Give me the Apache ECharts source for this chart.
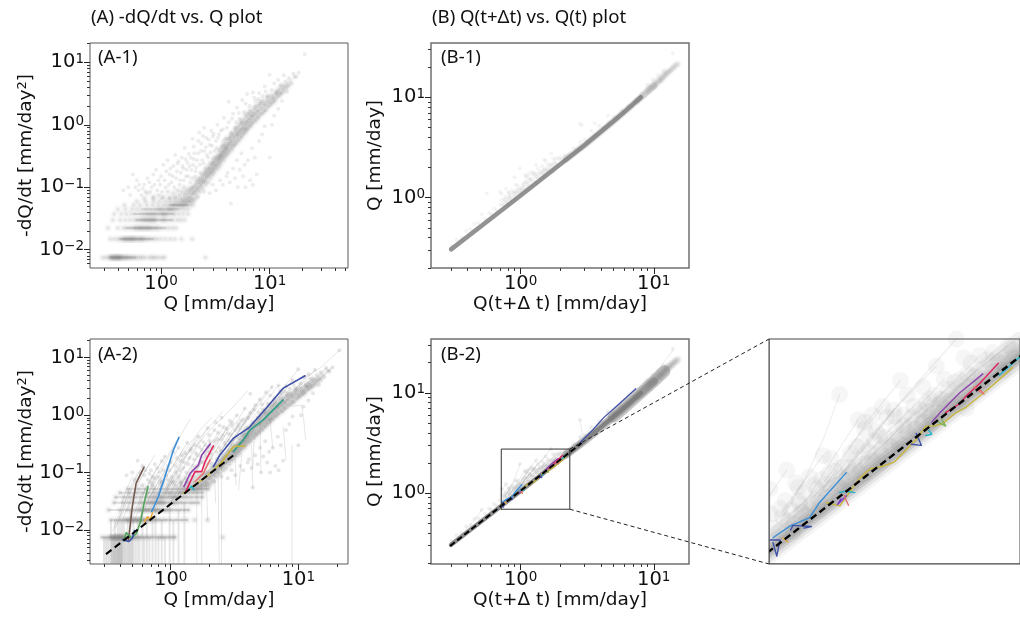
<!DOCTYPE html>
<html><head><meta charset="utf-8">
<style>html,body{margin:0;padding:0;background:#fff;overflow:hidden}#c{width:1020px;height:619px}</style>
<script src="https://cdn.jsdelivr.net/npm/echarts@6/dist/echarts.min.js"></script></head>
<body><div id="c"></div><script>
// ---------- tick labels and axis limits ----------
const majorA1X=[1,10], majorA1Y=[0.01,0.1,1,10], majorB=[1,10];
const minorVals=[.003,.004,.005,.006,.007,.008,.009,.02,.03,.04,.05,.06,.07,.08,.09,.2,.3,.4,.5,.6,.7,.8,.9,2,3,4,5,6,7,8,9,20,30,40,50];
const limA1={x:[.222,52.6],y:[.0051,20.4]};
const limA2={x:[.233,24.5],y:[.00256,21.2]};
const limB1={x:[.212,18.4],y:[.199,34.7]};
const limB2={x:[.212,18.4],y:[.196,34.5]};
const limIn={x:[.715,2.265],y:[.69,2.75]};
// ---------- A: quantised low-flow bands ----------
const bandLevels=[.0075,.0149,.0223,.0298,.0372,.0446,.052,.0595,.067];
const band1=[.29,.31,.33,.34,.345,.35,.355,.36,.365,.37,.375,.38,.385,.39,.395,.4,.405,.41,.415,.42,.425,.43,.44,.45,.46,.47,.48,.49,.5,.52,.53,.55,.57,.59,.62,.65,.68,.72,.78,.82,.86,.9,.96,1.03,1.08,2.56];
const band2=[.34,.37,.4,.42,.44,.45,.46,.47,.48,.49,.5,.51,.52,.53,.54,.55,.56,.57,.58,.6,.62,.63,.65,.66,.68,.69,.72,.75,.78,.82,.87,.92,1,1.1,1.22,1.34,1.54,1.94];
const band3=[.325,.4,.45,.48,.51,.54,.57,.58,.6,.62,.63,.65,.66,.68,.69,.72,.73,.75,.77,.79,.81,.83,.87,.9,.92,.97,1.02,1.1,1.18,1.28,1.38];
const band4=[.36,.42,.47,.52,.57,.6,.63,.66,.68,.7,.72,.74,.76,.78,.8,.82,.84,.86,.88,.9,.96,1.02,1.05,1.08,1.14,1.22,1.3,1.42,1.52,1.65];
const band5=[.37,.43,.48,.53,.58,.64,.68,.72,.75,.78,.81,.84,.87,.9,.95,1,1.03,1.06,1.09,1.12,1.18,1.26,1.34,1.45,1.6,1.77];
const band6=[.4,.47,.54,.6,.66,.73,.8,.88,.94,.98,1.02,1.08,1.15,1.18,1.22,1.26,1.3,1.38,1.5,1.62,1.77];
const band7=[.46,.56,.64,.74,.84,.94,1.04,1.12,1.2,1.27,1.3,1.34,1.38,1.42,1.46,1.5,1.54,1.58,1.62,1.66,1.75,1.86,1.97];
const band8=[.6,.72,.85,.96,1.1,1.22,1.35,1.45,1.55,1.65,1.75,1.85,2];
const band9=[.7,.85,1.02,1.2,1.35,1.5,1.7,1.9,2.1];
const allBands=[band1,band2,band3,band4,band5,band6,band7,band8,band9];
const bandCore=[[.35,.58],[.42,.84],[.48,1.08],[.6,1.26],[.56,1.3],[.68,1.45],[1.2,1.75]];
const bandCoreWide=[[.29,1.08],[.34,1.34],[.33,1.38],[.36,1.65],[.37,1.77],[.4,1.77],[.46,1.97]];
// ---------- A: scatter cloud and dense core ----------
const cloudUpper=[[.55,.16],[.6,.13],[.5,.1],[.45,.09],[.52,.075],[.62,.09],[.7,.11],[.75,.14],[.66,.075],[.8,.085],[.87,.11],[.9,.19],[.95,.13],[1,.15],[1.05,.23],[1.1,.1],[1.15,.27],[1.2,.16],[1.25,.12],[1.3,.22],[1.35,.33],[1.4,.18],[1.45,.26],[1.5,.13],[1.55,.3],[1.6,.2],[1.65,.43],[1.7,.15],[1.75,.25],[1.8,.34],[1.85,.12],[1.9,.19],[1.95,.6],[2,.28],[2,.45],[2.05,.15],[2.1,.21],[2.2,.35],[2.25,.75],[2.3,.17],[2.35,.5],[2.4,.27],[2.5,.9],[2.5,.38],[2.55,.2],[2.6,.62],[2.7,.3],[2.8,.48],[2.9,.8],[3,.25],[3,.65],[3.1,.38],[3.2,.55],[3.3,1],[3.4,.7],[3.5,.32],[3.6,.45],[3.7,.85],[3.8,1.3],[3.9,.6],[4,.42],[4.2,2.35],[4.2,1.1],[4.4,.75],[4.6,1.5],[4.8,.9],[5,1.9],[5,.7],[5.3,1.25],[5.6,2.5],[5.8,1.6],[6,.85],[6.2,3.1],[6.5,2],[6.8,1.4],[7,3.3],[7.4,2.4],[8,3.2],[8.2,2.2],[8.6,2.9],[9,4.1],[9.5,2.9],[10,6.3],[10.4,3.6],[11,4.6],[11.5,3.2],[12,5.2],[12.5,4.3],[13,3.2],[13.5,6.2],[14,5],[14.5,3.4],[15,5.6],[16,4.6],[16.5,6.6],[17.5,5.9],[18.5,6.8],[21,13.5]];
const cloudUpper2=[[.58,.1],[.63,.11],[.68,.095],[.72,.085],[.78,.12],[.82,.1],[.85,.16],[.92,.09],[.98,.11],[1.02,.085],[1.08,.13],[1.12,.18],[1.18,.11],[1.22,.2],[1.28,.15],[1.32,.1],[1.38,.14],[1.42,.24],[1.48,.11],[1.52,.17],[1.58,.22],[1.62,.13],[1.68,.28],[1.72,.19],[1.78,.15],[1.83,.22],[1.88,.3],[1.92,.14],[1.97,.23],[2.03,.35],[2.08,.18],[2.15,.27],[2.2,.55],[2.28,.23],[2.33,.38],[2.42,.66],[2.47,.24],[2.58,.44],[2.65,.33],[2.75,.58],[2.85,.36],[2.95,.46],[3.05,.72],[3.25,.42],[3.35,.62],[3.55,.8],[3.75,.55],[4.05,.9],[4.3,.62],[4.5,1.25],[4.9,1.1],[5.2,1.55],[5.5,1.05],[6,2.2],[6.3,1.5],[7.2,2.7],[7.8,2.6],[9.2,3.4]];
const cloudMid=[[.75,.08],[.85,.07],[.95,.075],[1.05,.07],[1.15,.085],[1.2,.068],[1.3,.08],[1.35,.07],[1.42,.09],[1.48,.075],[1.55,.085],[1.6,.066],[1.62,.1],[1.68,.08],[1.72,.09]];
const cloudLower=[[2.2,.07],[2.5,.085],[2.8,.08],[3,.11],[3.2,.09],[3.5,.13],[3.7,.11],[4,.15],[4.1,.17],[4.3,.12],[4.4,.055],[4.6,.2],[4.8,.14],[5,.27],[5.1,.1],[5.3,.19],[5.5,.35],[5.7,.15],[5.9,.23],[6,.1],[6.3,.27],[6.6,.13],[6.9,.42],[7,.11],[7.3,.3],[7.6,.16],[8,.55],[8.5,.7],[9,.95],[10,.3],[10.5,1],[11,1.4],[12,1.8],[13,2.4]];
const cloudCore=[[1.75,.062],[1.8,.08],[1.85,.07],[1.9,.09],[1.95,.078],[2,.1],[2.05,.085],[2.1,.11],[2.15,.095],[2.2,.12],[2.25,.1],[2.3,.13],[2.35,.105],[2.4,.14],[2.45,.12],[2.5,.16],[2.55,.13],[2.6,.17],[2.65,.145],[2.7,.19],[2.75,.155],[2.8,.2],[2.85,.17],[2.9,.23],[2.95,.18],[3,.25],[3.05,.2],[3.1,.27],[3.15,.22],[3.2,.3],[3.25,.23],[3.3,.26],[3.35,.33],[3.4,.24],[3.45,.29],[3.5,.37],[3.55,.28],[3.6,.33],[3.65,.42],[3.7,.31],[3.75,.37],[3.8,.46],[3.85,.34],[3.9,.42],[3.95,.5],[4,.37],[4.1,.46],[4.15,.58],[4.2,.4],[4.3,.5],[4.35,.64],[4.4,.44],[4.5,.56],[4.55,.72],[4.6,.48],[4.7,.62],[4.8,.78],[4.85,.54],[4.95,.68],[5,.88],[5.1,.6],[5.2,.76],[5.3,1],[5.35,.66],[5.45,.84],[5.55,1.1],[5.6,.74],[5.7,.94],[5.8,1.22],[5.9,.82],[6,1.02],[6.1,1.35],[6.2,.9],[6.3,1.14],[6.45,1.5],[6.5,.98],[6.6,1.24],[6.8,1.62],[6.85,1.1],[7,1.38],[7.2,1.8],[7.25,1.2],[7.4,1.52],[7.6,2],[7.7,1.34],[7.85,1.68],[8.1,2.2],[8.2,1.5],[8.4,1.86],[8.7,2.4],[8.9,1.7],[9.1,2.08],[9.5,2.7],[9.7,1.95],[10,2.3],[10.4,3],[10.7,2.3],[11,2.7],[11.4,3.4],[11.9,2.8],[12.3,3.3],[12.8,3.9],[13.3,3.6],[13.8,4.1],[14.6,4.4],[15.5,5],[17,5.9]];
const cloudCore2=[[1.6,.06],[1.65,.075],[1.72,.055],[1.78,.07],[1.82,.095],[1.88,.06],[1.93,.1],[1.98,.065],[2.02,.08],[2.08,.13],[2.12,.075],[2.18,.09],[2.22,.14],[2.28,.085],[2.33,.115],[2.38,.16],[2.42,.095],[2.48,.125],[2.53,.18],[2.58,.11],[2.63,.15],[2.68,.21],[2.72,.12],[2.78,.17],[2.83,.24],[2.88,.14],[2.93,.2],[2.98,.16],[3.03,.29],[3.08,.17],[3.13,.23],[3.18,.19],[3.28,.3],[3.33,.2],[3.38,.28],[3.43,.4],[3.48,.22],[3.53,.32],[3.58,.25],[3.68,.36],[3.73,.48],[3.78,.27],[3.83,.39],[3.88,.3],[3.98,.44],[4.03,.6],[4.08,.33],[4.18,.5],[4.25,.36],[4.35,.55],[4.42,.7],[4.52,.4],[4.62,.66],[4.72,.46],[4.82,.85],[4.92,.5],[5.02,.74],[5.12,.95],[5.22,.55],[5.32,.82],[5.42,1.15],[5.52,.62],[5.65,.88],[5.75,.7],[5.85,1.08],[5.95,1.45],[6.05,.76],[6.15,1.12],[6.3,.85],[6.4,1.28],[6.55,1.7],[6.7,.95],[6.8,1.4],[6.95,1.05],[7.1,1.55],[7.3,1.95],[7.5,1.15],[7.65,1.7],[7.9,1.3],[8,2],[8.3,2.4],[8.6,1.5],[8.8,2.15],[9.2,1.7],[9.4,2.4],[9.8,2.8],[10.2,2.1],[10.6,2.6],[11.2,2.4],[11.7,3.1],[12.1,3.7],[12.6,3],[13.1,4.3],[13.6,3.4],[14.2,3.9],[15,4.2]];
const coreA=[[1.9,.085],[3.2,.24],[4.6,.5],[6.5,1.06],[8.7,1.74],[12,3.2]];
const dashA=[[.311,.0038],[3.25,.217]];
// ---------- A-2: recession curves ----------
const greyLinesA=[[[21,13.5],[15,6.8],[11,4.2]],[[3.98,2.6],[2.9,1.2],[2.1,.6],[1.6,.3]],[[2.55,1.15],[2,.62],[1.55,.32],[1.25,.17]],[[1.42,.85],[1.2,.45],[1,.22],[.85,.11]],[[2.1,.92],[1.7,.55],[1.35,.28],[1.1,.14]],[[.62,.13],[.52,.065],[.45,.03],[.4,.015]],[[.55,.1],[.47,.05],[.42,.023],[.37,.011]],[[.75,.2],[.62,.1],[.53,.05],[.46,.022]],[[.9,.19],[.75,.1],[.63,.05],[.55,.022]],[[1.1,.35],[.9,.16],[.75,.08],[.64,.036]],[[1.35,.33],[1.1,.16],[.9,.08],[.78,.04]],[[1.6,.43],[1.3,.2],[1.05,.09],[.9,.045]],[[1.95,.6],[1.55,.27],[1.25,.12],[1.03,.06]],[[3,.8],[2.4,.4],[1.9,.19],[1.5,.09]],[[3.3,1],[2.6,.48],[2.1,.24]],[[4.6,1.5],[3.7,.8],[2.9,.4],[2.3,.2]],[[5.6,2.5],[4.4,1.2],[3.4,.55]],[[7,3.3],[5.5,1.7],[4.3,.85]],[[10,6.3],[7.6,3],[6,1.55]],[[13.5,6.2],[10.4,3.3],[8,1.7]],[[9.1,1.42],[10.6,1.5],[11.1,.72],[11.4,.37]],[[7.6,.63],[8,.166]],[[8.9,.3],[8.9,.00256]],[[3.6,.2],[3.4,.05]],[[4.5,.35],[4.4,.13]],[[2.5,.13],[2.5,.00256]],[[2.2,.09],[2.25,.03]],[[2.35,.1],[2.4,.00256]],[[1.75,.06],[1.75,.00256]],[[1.6,.05],[1.6,.00256]],[[1.9,.07],[1.95,.015]],
[[.5,.085],[.44,.045],[.4,.021],[.35,.0095]],[[.68,.14],[.56,.07],[.48,.033],[.42,.015]],[[.85,.16],[.7,.08],[.58,.036],[.5,.016]],[[1,.15],[.82,.075],[.68,.036],[.58,.016]],[[1.25,.25],[1,.11],[.82,.052],[.7,.024]],[[1.5,.3],[1.2,.14],[.98,.065],[.82,.03]],[[1.75,.38],[1.4,.17],[1.15,.08],[.95,.037]],[[2.2,.55],[1.75,.25],[1.4,.115],[1.15,.052]],[[2.6,.62],[2.1,.3],[1.7,.14],[1.4,.065]],[[2.9,.6],[2.35,.28],[1.9,.13]],[[3.4,.7],[2.8,.36],[2.25,.17]],[[3.8,1.3],[3.1,.6],[2.5,.28]],[[4.2,1.1],[3.4,.55],[2.8,.28]],[[5,1.9],[4,.9],[3.2,.42]],[[5.3,1.25],[4.4,.68],[3.6,.36]],[[6.2,3.1],[4.8,1.4],[3.8,.68]],[[6.5,2],[5.3,1.1],[4.3,.58]],[[8,3.2],[6.3,1.6],[5,.85]],[[9,4.1],[7,2],[5.6,1.05]],[[12,5.2],[9.2,2.6],[7.4,1.4]],[[16.5,6.6],[12.6,3.6],[9.8,2]],[[18.5,6.8],[14.2,4],[11,2.4]],[[6,.85],[6.3,.27]],[[5,.7],[5.1,.1]],[[3.2,.2],[3.25,.06]],[[4.3,.3],[4.4,.055]],
[[.6,.13],[.5,.06],[.43,.028],[.38,.0125]],[[.8,.085],[.66,.042],[.55,.02],[.47,.0095]],[[.95,.13],[.78,.063],[.65,.03],[.55,.014]],[[1.15,.27],[.95,.12],[.8,.058],[.68,.027]],[[1.3,.22],[1.05,.1],[.88,.048],[.74,.022]],[[1.65,.43],[1.32,.19],[1.08,.085],[.9,.04]],[[1.85,.3],[1.5,.14],[1.22,.065],[1,.03]],[[2.05,.35],[1.65,.16],[1.35,.075],[1.1,.036]],[[2.35,.5],[1.9,.23],[1.55,.105]],[[2.75,.58],[2.25,.28],[1.8,.13]],[[3.25,.42],[2.7,.21],[2.2,.1]],[[3.55,.8],[2.9,.4],[2.35,.19]],[[4.05,.9],[3.3,.45],[2.7,.22]],[[4.5,1.25],[3.6,.62],[2.95,.3]],[[5.8,1.6],[4.6,.82],[3.7,.42]],[[7.2,2.7],[5.7,1.3],[4.5,.62]],[[7.4,2.4],[6,1.2],[4.9,.68]],[[10.4,3.6],[8.1,1.95],[6.4,1.05]]];
const dropX=[.3,.31,.32,.33,.34,.345,.35,.355,.36,.365,.37,.375,.38,.385,.39,.395,.4,.405,.41,.415,.42,.43,.44,.45,.46,.47,.48,.49,.5,.51,.53,.55,.57,.6,.62,.65,.68,.72,.76,.8,.85,.9,.98,1.05,1.15,1.28];
const dropTop=[.0075,.0075,.0075,.0075,.0149,.0075,.0075,.0075,.0075,.0149,.0075,.0075,.0075,.0149,.0075,.0075,.0149,.0075,.0075,.0149,.0075,.0149,.0075,.0075,.0149,.0075,.0223,.0075,.0075,.0149,.0075,.0149,.0075,.0223,.0075,.0149,.0075,.0149,.0223,.0075,.0149,.0075,.0298,.0149,.0223,.0298];
const blueA=[[2.16,.127],[2.43,.203],[3.1,.397],[4.06,.593],[5.32,1.16],[7.63,2.96],[11.3,4.85]];
const tealA=[[3.1,.232],[3.7,.37],[4.18,.55],[5.3,.83],[7.6,1.85]];
const yellowA=[[1.26,.044],[1.6,.065],[1.91,.085],[2.5,.15],[3.1,.284],[3.82,.29]];
const skyA=[[.71,.021],[.8,.038],[.9,.085],[1.05,.248],[1.16,.41]];
const brownA=[[.466,.0067],[.48,.0114],[.5,.0255],[.535,.065],[.618,.124]];
const greenA=[[.43,.0065],[.447,.009],[.495,.0072],[.54,.0088],[.58,.014],[.61,.0255],[.664,.057]];
const purpleA=[[1.27,.057],[1.42,.097],[1.65,.136],[1.75,.203],[2.04,.316]];
const crimsonA=[[1.3,.044],[1.46,.0795],[1.55,.104],[1.75,.104],[1.86,.156],[2.16,.292]];
const salmonA=[[1.55,.07],[1.8,.097],[2.03,.166]];
const orangeA=[[.62,.014],[.66,.017],[.69,.015],[.72,.02]];
const darkA=[[.42,.0068],[.47,.0063],[.5,.0072],[.52,.0098]];
const cyanA=[[1.38,.05],[1.45,.058],[1.52,.05]];
// ---------- B: cloud, ridge, curves ----------
const cloudB=[[.989,1.954],[1.307,2.13],[1.542,2.33],[1.69,2.75],[.776,1.23],[.916,1.343],[.808,1.137],[.817,1.104],[.718,1.094],[.753,.97],[.824,.997],[.891,1.094],[.931,1.127],[1,1.25],[1.077,1.675],[1.11,1.65],[1.11,1.58],[1.203,1.815],[1.267,1.778],[1.23,1.7],[1.274,1.71],[1.39,1.82],[1.47,1.858],[1.496,1.9],[1.6,2.15],[1.68,2.11],[1.81,2.37],[1.88,2.48],[2,2.53],[2.14,2.64],[1.77,1.795],[1.57,1.845],[1.324,1.615],[1.19,1.517],[1.16,1.47],[1.1,1.43],[1.06,1.315],[1.03,1.25],[.75,.84],[.78,.9],[.8,.88],[.83,.95],[.85,.93],[.87,1],[.9,1.02],[.93,1.04],[.95,1.1],[.98,1.12],[1.02,1.15],[1.05,1.2],[1.08,1.22],[1.12,1.28],[1.15,1.3],[1.2,1.35],[1.25,1.42],[1.3,1.45],[1.35,1.55],[1.4,1.58],[1.45,1.65],[1.5,1.7],[1.55,1.75],[1.6,1.8],[1.65,1.88],[1.7,1.92],[1.75,2],[1.8,2.05],[1.9,2.15],[2,2.25],[2.1,2.38],[2.2,2.45],[.3,.33],[.33,.38],[.36,.4],[.39,.465],[.42,.48],[.45,.55],[.48,.56],[.51,.68],[.54,.62],[.58,.7],[.6,.68],[.63,.78],[.66,.75],[.7,.85],[2.3,2.7],[2.5,3.1],[2.65,3],[2.79,5.4],[2.8,3.6],[3,3.8],[3.2,3.7],[3.4,4.6],[3.6,4.2],[3.9,5.2],[4.2,5],[4.54,6.56],[4.6,5.6],[5,6.4],[5.3,6.2],[5.7,7.4],[6,7],[6.4,8.2],[6.8,8],[7.2,9.2],[7.6,8.8],[13.9,27.5]];
const cloudB2=[[.73,.86],[.76,.92],[.79,.96],[.82,1.02],[.84,1.07],[.88,1.12],[.91,1.16],[.94,1.2],[.97,1.22],[1,1.17],[1.04,1.36],[1.07,1.42],[1.13,1.38],[1.17,1.56],[1.22,1.5],[1.28,1.6],[1.33,1.72],[1.38,1.7],[1.43,1.78],[1.48,1.76],[1.53,1.95],[1.58,1.9],[1.63,2.02],[1.72,2.14],[1.78,2.22],[1.84,2.18],[1.95,2.42],[2.05,2.4],[2.18,2.58],[.72,.94],[.77,1.02],[.86,1.18],[.95,1.32],[1.15,1.72],[1.35,1.95],[1.45,2.05],[1.75,2.45],[.8,.84],[.9,.96],[1,1.1],[1.1,1.2],[1.2,1.29],[1.3,1.4],[1.5,1.62],[1.7,1.85],[1.9,2.05],[2.1,2.27]];
const tailB=[[7.6,9.4],[8,9.7],[8.2,10.6],[8.5,10.4],[8.8,11.3],[9,11.6],[9.2,11.4],[9.4,12.2],[9.6,12.3],[9.8,12.6],[10,13],[10.2,12.9],[10.4,13.7],[10.6,13.6],[10.8,14.4],[11,14.6],[11.2,14.6],[11.4,15.3],[11.6,15.2],[11.8,16],[12,16.2],[12.2,17],[12.5,16.8],[12.8,17.6],[13,18.2],[13.3,18.4],[13.6,19.2],[14,19.4],[14.3,20.4],[14.7,20.8],[15.2,21.6],[9.1,13],[10,14.6],[11,16.2],[12,18]];
const cloudB1Extra=[[.556,1.1],[.7,1.15],[.9,1.6],[1.5,2.4],[2.87,5.3],[3.6,5.5]];
const ridgeB=[[.3,.305],[.715,.745],[1,1.05],[3,3.3],[5,5.8],[6.2,7.4],[8,10],[10,13]];
const ridgeInsetUp=[[.715,.79],[1,1.13],[1.5,1.74],[2,2.36],[2.265,2.7]];
const ridgeBLow=[[.3,.305],[1,1.05],[3,3.3],[5,5.8],[6.2,7.4],[8,10]];
const ridgeBMid=[[2.2,2.42],[3,3.3],[5,5.8],[6.2,7.4],[8,10],[10,13]];
const ridgeBHigh=[[5,5.8],[6.2,7.4],[8,10],[10,13],[12,16.4]];
const dashB=[[.295,.297],[2.87,3.16]];
const greyLinesB=[[[1.69,2.75],[1.3,1.85],[1.13,1.45],[.98,1.15]],[[1.307,2.13],[1.12,1.65],[1,1.3],[.9,1.05]],[[1.542,2.33],[1.27,1.78],[1.06,1.32],[.93,1.08]],[[.916,1.343],[.82,1.1],[.74,.9]],[[.776,1.23],[.7,1]],[[1.88,2.48],[1.6,2],[1.4,1.65]],[[2.14,2.64],[1.81,2.2],[1.55,1.82]],[[1.077,1.675],[.97,1.35],[.86,1.05]],[[1.267,1.778],[1.1,1.43],[1,1.2]],[[1.6,2.15],[1.4,1.77],[1.22,1.45]],[[14,27],[10.5,16],[8,10.5]],[[2.79,5.4],[2.9,3.9],[2.6,3]],[[4.54,6.56],[3.9,5],[3.3,3.8]],[[8.5,13],[6.5,8.3],[5,5.8]],[[.51,.68],[.44,.52],[.38,.42]],[[2,2.53],[1.75,2.1],[1.5,1.72]],[[.989,1.954],[.92,1.5],[.84,1.15],[.76,.92]],[[1.203,1.815],[1.05,1.45],[.92,1.14]],[[1.39,1.82],[1.2,1.5],[1.05,1.22]],[[1.496,1.9],[1.3,1.58],[1.12,1.3]],[[.718,1.094],[.72,.9]],[[.891,1.094],[.8,.95]],[[1,1.25],[.9,1.08],[.8,.92]],[[3.4,4.6],[3,3.7],[2.6,3]],[[3.9,5.2],[3.4,4.2],[3,3.4]],[[5,6.4],[4.3,5.2],[3.7,4.2]],[[5.7,7.4],[4.9,6],[4.2,4.9]],[[6.4,8.2],[5.5,6.8],[4.7,5.5]],[[7.2,9.2],[6.2,7.8],[5.3,6.2]]];
const blueB=[[2.8,3.2],[3.5,4.3],[4.17,5.6],[5.56,7.9],[7.33,11]];
const skyB=[[.728,.811],[.787,.871],[.862,.918],[.902,1.007],[1.02,1.21]];
const purpleB=[[1.51,1.65],[1.57,1.75],[1.72,1.98],[1.91,2.22]];
const crimsonB=[[1.61,1.75],[1.72,1.85],[1.77,1.94],[1.88,2.09],[2.05,2.37]];
const yellowB=[[.93,1.007],[.99,.986],[1.08,1.16],[1.135,1.236],[1.21,1.26],[1.27,1.29],[1.41,1.49],[1.47,1.61],[1.52,1.61],[1.58,1.63],[1.69,1.75],[1.77,1.81],[2,2.07],[2.19,2.31]];
const tealB=[[2.06,2.2],[2.26,2.46]];
const wiggleDarkA=[[.718,.8],[.752,.8],[.741,.724],[.728,.787]];
const wiggleDarkB=[[.79,.85],[.798,.875],[.869,.869],[.84,.86]];
const wiggleDarkC=[[1.406,1.54],[1.44,1.43],[1.374,1.44]];
const wiggleCyanA=[[.989,1.07],[1.017,1.08],[1.06,1.07]];
const wiggleCyanB=[[1.47,1.52],[1.51,1.53],[1.49,1.57]];
const wiggleGreen=[[1.556,1.65],[1.61,1.61],[1.58,1.68]];
const wiggleRed=[[1.83,2.05],[1.92,1.96],[1.88,2.02]];
const wiggleOrange=[[.762,.81],[.78,.79]];
const wigglePurple=[[.995,1.03],[.98,.995],[1.02,1.05]];
const wiggleSalmon=[[1.01,1.05],[1.03,.99]];
const zoomBox=[[.715,.69],[2.34,.69],[2.34,2.75],[.715,2.75],[.715,.69]];

const FONT='"DejaVu Sans"', HFONT='"Noto Sans"';
const sup=v=>{const e=Math.round(Math.log10(v));return '{b|10}{s|'+(e<0?'\u2212'+(-e):e)+'}'};
const rich={b:{fontSize:19.5,fontFamily:FONT,color:'#111'},s:{fontSize:13.5,fontFamily:FONT,color:'#111',verticalAlign:'top',padding:[0,0,6,0]}};
const grids=[],xAxes=[],yAxes=[],series=[];
function panel(g,lim,mx,my,xname,yname,gapX,gapY,spine,sw){
  const i=grids.length;grids.push({left:g[0],top:g[1],width:g[2],height:g[3],show:true,borderColor:spine,borderWidth:sw,backgroundColor:'#fff'});
  const base=(l)=>({type:'log',logBase:10,gridIndex:i,min:l[0],max:l[1],splitLine:{show:false},minorTick:{show:false},minorSplitLine:{show:false},axisLine:{show:false}});
  const inR=l=>minorVals.filter(v=>v>=l[0]&&v<=l[1]);
  xAxes.push({...base(lim.x),position:'bottom',name:xname,nameLocation:'middle',nameGap:gapX,nameTextStyle:{fontSize:18.5,fontFamily:FONT,color:'#111'},axisTick:mx?{show:true,length:6,lineStyle:{color:'#222'},customValues:mx}:{show:false},axisLabel:mx?{show:true,customValues:mx,formatter:sup,rich,margin:6}:{show:false}});
  xAxes.push({...base(lim.x),position:'bottom',axisTick:mx?{show:true,length:3,lineStyle:{color:'#333'},customValues:inR(lim.x)}:{show:false},axisLabel:{show:false}});
  yAxes.push({...base(lim.y),position:'left',name:yname,nameLocation:'middle',nameGap:gapY,nameRotate:90,nameTextStyle:{fontSize:18.5,fontFamily:FONT,color:'#111',rich:{s:{fontSize:13,fontFamily:FONT,color:'#111',verticalAlign:'top',padding:[0,0,6,0]},n:{fontSize:18.5,fontFamily:FONT,color:'#111'}}},axisTick:my?{show:true,length:6,lineStyle:{color:'#222'},customValues:my}:{show:false},axisLabel:my?{show:true,customValues:my,formatter:sup,rich,margin:6}:{show:false}});
  yAxes.push({...base(lim.y),position:'left',axisTick:my?{show:true,length:3,lineStyle:{color:'#333'},customValues:inR(lim.y)}:{show:false},axisLabel:{show:false}});
  return i;
}
const common=i=>({xAxisIndex:2*i,yAxisIndex:2*i,silent:true,animation:false});
const pts=(i,data,size,alpha,z)=>series.push({...common(i),type:'scatter',data,symbolSize:size,itemStyle:{color:'#808080',opacity:alpha},z:z||2});
const ln=(i,data,color,width,opts)=>series.push({...common(i),type:'line',data,showSymbol:false,symbol:'none',lineStyle:{color,width,cap:'round',join:'round',...(opts||{})},z:(opts&&opts.zz)||3});

const A1=panel([90,43,258,225],limA1,majorA1X,majorA1Y,'Q [mm/day]','-dQ/dt [mm/day{s|2}]',26,46,'#5a5a5a',1);
const B1=panel([431,43,258,225],limB1,majorB,majorB,'Q(t+\u0394 t) [mm/day]','Q [mm/day]',26,46,'#707070',1.5);
const A2=panel([90,339,258,225],limA2,majorA1X,majorA1Y,'Q [mm/day]','-dQ/dt [mm/day{s|2}]',26,46,'#5a5a5a',1);
const B2=panel([431,339,258,225],limB2,majorB,majorB,'Q(t+\u0394 t) [mm/day]','Q [mm/day]',26,46,'#707070',1.5);
const IN=panel([769,339,251,225],limIn,null,null,'','',0,0,'#444',1);

const cloudA=[...cloudUpper,...cloudUpper2,...cloudMid,...cloudLower,...cloudCore,...cloudCore2];
const coreGlow=[...cloudCore,...cloudCore2,...cloudMid];
const bandPts=allBands.flatMap((b,k)=>b.map(q=>[q,bandLevels[k]]));
// A-1
ln(A1,coreA,'rgba(125,125,125,.12)',7,{zz:1});
bandCore.forEach((r,k)=>ln(A1,[[r[0],bandLevels[k]],[r[1],bandLevels[k]]],'rgba(120,120,120,.22)',2,{zz:1}));
pts(A1,[...coreGlow,...bandPts],8,.04,1);
pts(A1,[...cloudA,...bandPts],4,.14);
// A-2
ln(A2,coreA,'rgba(125,125,125,.18)',8,{zz:1});
dropX.forEach((x,k)=>ln(A2,[[x,dropTop[k]],[x,limA2.y[0]]],'rgba(128,128,128,.2)',2,{zz:1,cap:'butt'}));
greyLinesA.forEach(l=>ln(A2,l,'rgba(128,128,128,.2)',1,{zz:1}));
bandCoreWide.forEach((r,k)=>ln(A2,[[r[0],bandLevels[k]],[r[1],bandLevels[k]]],'rgba(120,120,120,.22)',2,{zz:1}));
pts(A2,[...coreGlow,...bandPts],8,.06,1);
pts(A2,[...cloudA,...bandPts],4,.2);
[[blueA,'#3f51a8'],[tealA,'#2f9c85'],[yellowA,'#c8b53c'],[skyA,'#3b8fd8'],[brownA,'#75594e'],[greenA,'#54a45a'],[purpleA,'#8e44ad'],[crimsonA,'#e0245e'],[salmonA,'#e57373'],[orangeA,'#e8a93c'],[darkA,'#3f51a8'],[cyanA,'#25b5c9']].forEach(c=>ln(A2,c[0],c[1],1.6,{zz:4}));
ln(A2,dashA,'#000',2,{type:[7,4],zz:6,cap:'butt'});
// B
const cloudBAll=[...cloudB,...cloudB2,...tailB];
ln(B1,ridgeBMid,'rgba(125,125,125,.22)',7,{zz:1});
ln(B1,ridgeBLow,'rgba(120,120,120,.8)',4.5,{zz:1});
pts(B1,tailB,7,.07,1);
pts(B1,[...cloudBAll,...cloudB1Extra],4,.09);
ln(B2,ridgeBHigh,'rgba(125,125,125,.42)',12,{zz:1});
ln(B2,ridgeBMid,'rgba(125,125,125,.5)',8,{zz:1});
ln(B2,ridgeBLow,'rgba(120,120,120,.85)',4.5,{zz:1});
greyLinesB.forEach(l=>ln(B2,l,'rgba(128,128,128,.16)',1,{zz:1}));
pts(B2,tailB,8,.1,1);
pts(B2,cloudBAll,4,.13);
const colB=[[blueB,'#3f51a8'],[skyB,'#3b8fd8'],[purpleB,'#8e44ad'],[crimsonB,'#e0245e'],[yellowB,'#c8b53c'],[tealB,'#25b5c9'],[wiggleDarkA,'#3f51a8'],[wiggleDarkB,'#3f51a8'],[wiggleDarkC,'#3f51a8'],[wiggleCyanA,'#18b4c8'],[wiggleCyanB,'#18b4c8'],[wiggleGreen,'#7fb35a'],[wiggleRed,'#e57373'],[wiggleOrange,'#e8a93c'],[wigglePurple,'#7a3fd0'],[wiggleSalmon,'#e57373']];
colB.forEach(c=>ln(B2,c[0],c[1],1.3,{zz:4}));
ln(B2,dashB,'#000',2,{type:[6,3],zz:6,cap:'butt'});
ln(B2,zoomBox,'#333',1,{zz:7});
// Inset
[[24,.08],[18,.14],[12,.24],[7,.25]].forEach(w=>ln(IN,ridgeB,`rgba(125,125,125,${w[1]})`,w[0],{zz:1}));
[[20,.1],[11,.1]].forEach(w=>ln(IN,ridgeInsetUp,`rgba(130,130,130,${w[1]})`,w[0],{zz:1}));
greyLinesB.forEach(l=>ln(IN,l,'rgba(128,128,128,.13)',1.2,{zz:1}));
pts(IN,cloudBAll,17,.07);
colB.forEach(c=>ln(IN,c[0],c[1],1.4,{zz:4}));
ln(IN,dashB,'#000',2.4,{type:[7,4],zz:6,cap:'butt'});

const label=(text,left,top,size)=>({text,left,top,padding:0,textStyle:{fontFamily:HFONT,fontWeight:'normal',fontSize:size,color:'#111'}});
const option={animation:false,backgroundColor:'#fff',
 title:[label('(A) -dQ/dt vs. Q plot',91,8,18.6),label('(B) Q(t+\u0394t) vs. Q(t) plot',432,8,18.6),label('(A-1)',98,48,18.6),label('(B-1)',441,48,18.6),label('(A-2)',98,345,18.6),label('(B-2)',441,345,18.6)],
 grid:grids,xAxis:xAxes,yAxis:yAxes,series};
const chart=echarts.init(document.getElementById('c'),null,{renderer:'canvas'});
chart.setOption(option);
// connectors and inset frame, positioned through the axes; thick inset bands are masked at the frame
const px=(i,p)=>chart.convertToPixel({xAxisIndex:2*i,yAxisIndex:2*i},p);
const tl=px(IN,[limIn.x[0],limIn.y[1]]), bl=px(IN,[limIn.x[0],limIn.y[0]]);
const conn=(a,b)=>({type:'line',z:50,shape:{x1:a[0],y1:a[1],x2:b[0],y2:b[1]},style:{stroke:'#222',lineWidth:1,lineDash:[4,3]}});
const mask=(x,y,w,h)=>({type:'rect',z:40,silent:true,shape:{x,y,width:w,height:h},style:{fill:'#fff'}});
const edge=(a,b)=>({type:'line',z:45,shape:{x1:a[0],y1:a[1],x2:b[0],y2:b[1]},style:{stroke:'#444',lineWidth:1}});
chart.setOption({graphic:[
 mask(bl[0]-32,tl[1],32,bl[1]-tl[1]+40),mask(bl[0]-32,bl[1],300,40),
 edge(tl,bl),edge(bl,[1020,bl[1]]),
 conn(px(B2,[2.34,2.75]),tl),conn(px(B2,[2.34,.69]),bl)]});
</script></body></html>
